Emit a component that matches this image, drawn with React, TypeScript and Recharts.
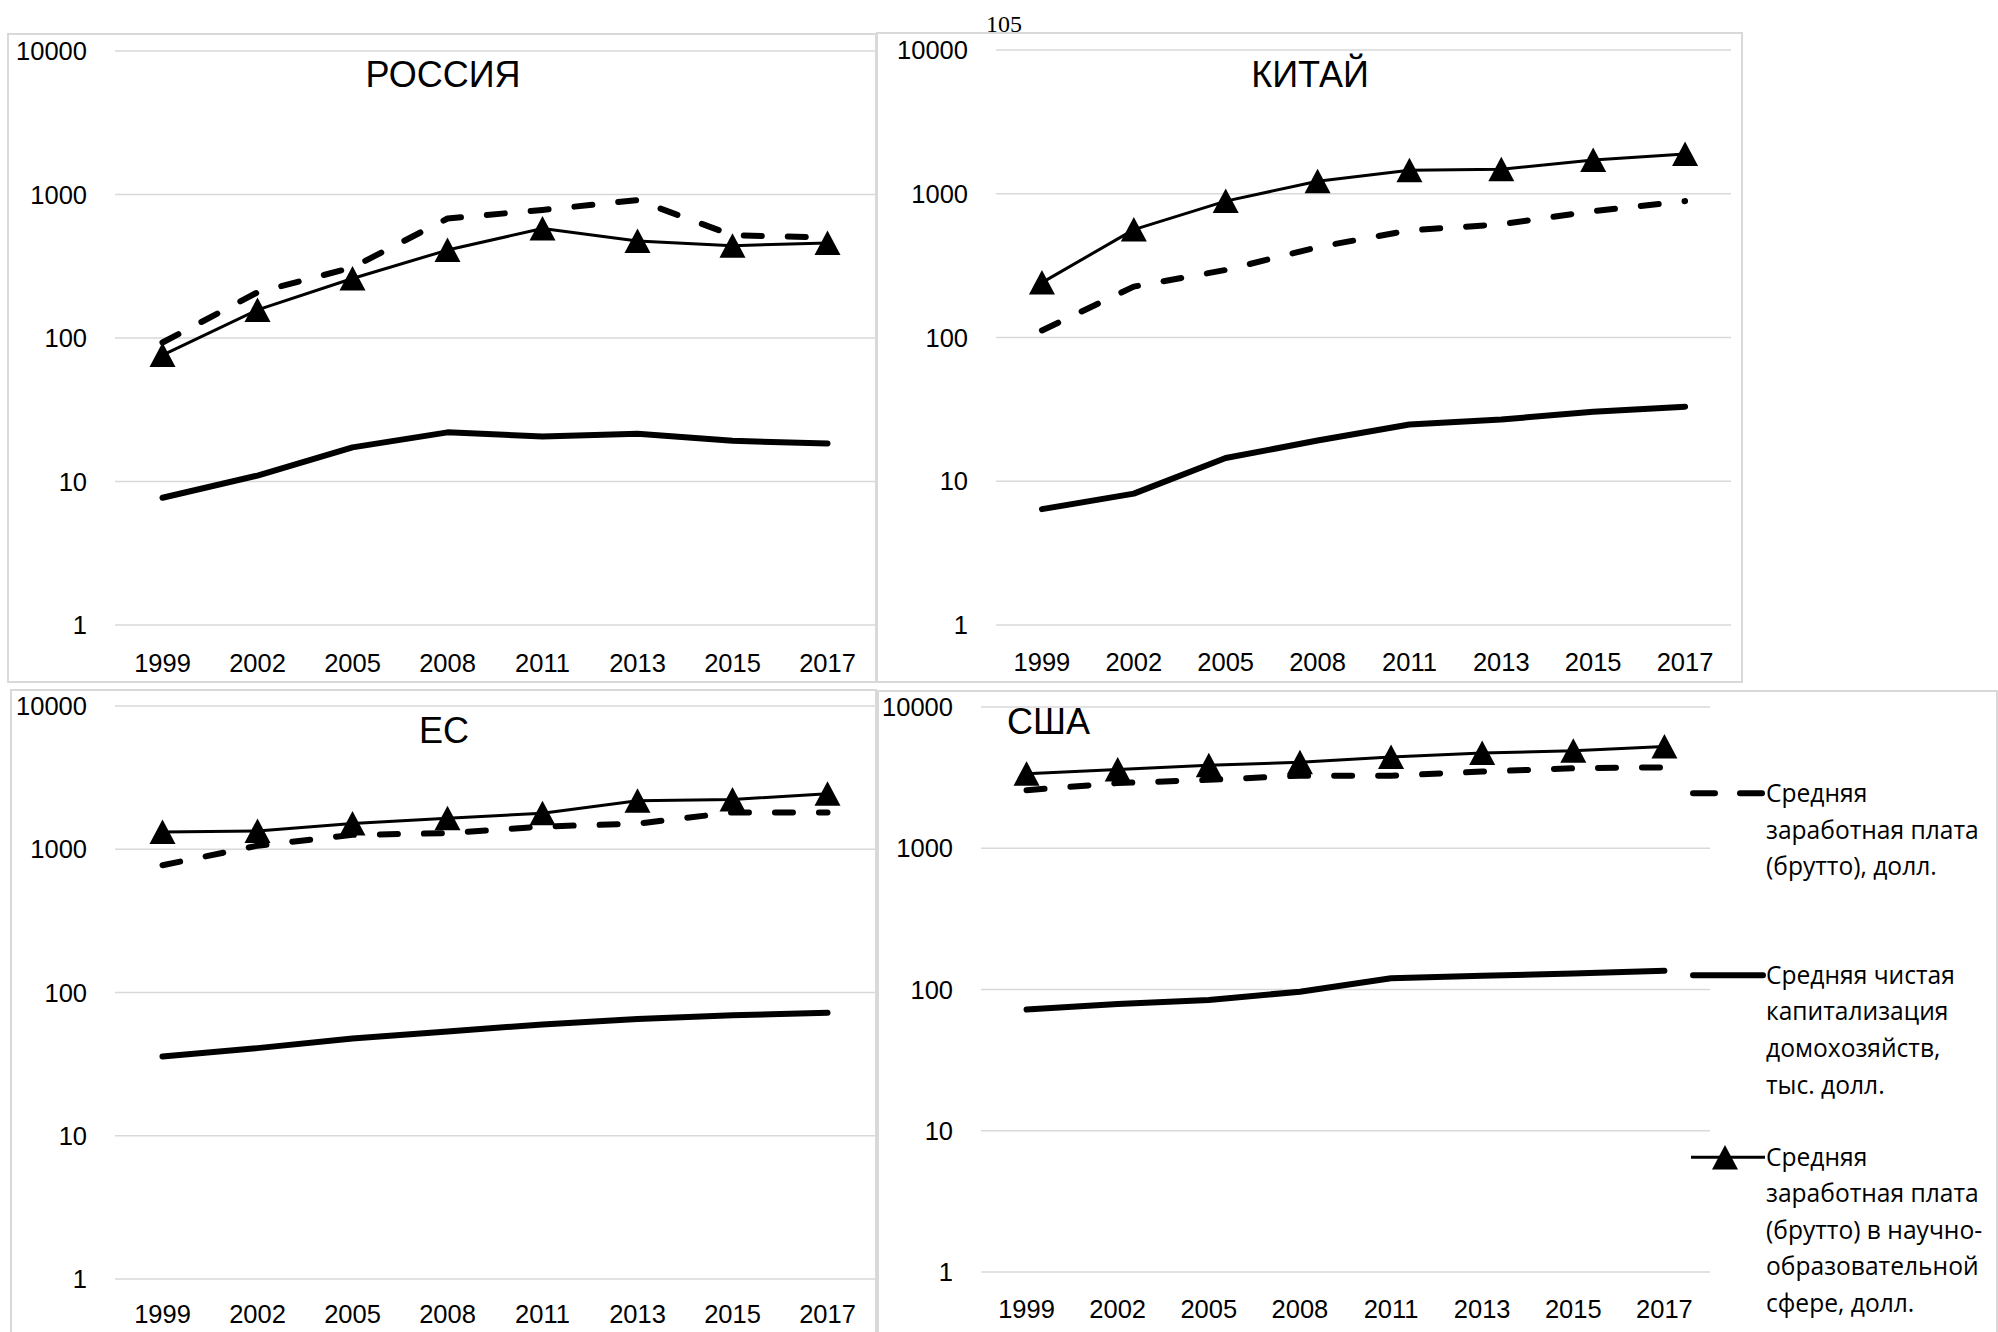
import React from "react";
import { LineChart, Line, XAxis, YAxis, CartesianGrid, Legend } from "recharts";

const years = ["1999", "2002", "2005", "2008", "2011", "2013", "2015", "2017"];
const yTicks = [1, 10, 100, 1000, 10000];

const seriesKeys = ["wage", "capital", "science"];
const seriesNames = [
  "Средняя\nзаработная плата\n(брутто), долл.",
  "Средняя чистая\nкапитализация\nдомохозяйств,\nтыс. долл.",
  "Средняя\nзаработная плата\n(брутто) в научно-\nобразовательной\nсфере, долл.",
];

const russiaWage = [93, 208, 310, 680, 780, 915, 520, 502];
const russiaCapital = [7.7, 11, 17.3, 22, 20.6, 21.5, 19.2, 18.4];
const russiaScience = [76, 157, 260, 410, 580, 475, 440, 460];

const chinaWage = [112, 226, 295, 425, 556, 613, 757, 889];
const chinaCapital = [6.4, 8.2, 14.5, 19.2, 24.8, 26.9, 30.4, 33];
const chinaScience = [241, 563, 889, 1221, 1456, 1478, 1715, 1889];

const euWage = [774, 1059, 1260, 1295, 1440, 1510, 1808, 1808];
const euCapital = [35.8, 40.9, 47.7, 53.4, 59.9, 65.3, 69.4, 72.3];
const euScience = [1320, 1340, 1510, 1648, 1786, 2180, 2226, 2444];

const usaWage = [2576, 2892, 3050, 3265, 3265, 3492, 3684, 3740];
const usaCapital = [72.2, 78.9, 84.4, 96.5, 120, 125, 130, 136];
const usaScience = [3375, 3614, 3872, 4059, 4430, 4733, 4897, 5245];

const FONT = "'Liberation Sans', Arial, sans-serif";
const LEGEND_FONT = "'Open Sans', 'Liberation Sans', sans-serif";
const GRID = "#d9d9d9";

const triangle = (props: any) => {
  const { cx, cy, index } = props;
  if (cx == null || cy == null) return <g key={`t-${index}`} />;
  return (
    <path
      key={`t-${index}`}
      d={`M${cx},${cy - 12.5} L${cx + 13},${cy + 12} L${cx - 13},${cy + 12} Z`}
      fill="#000"
    />
  );
};

const LegendBox = (props: any) => {
  const items = [...(props.payload || [])].sort(
    (a: any, b: any) => seriesKeys.indexOf(a.dataKey) - seriesKeys.indexOf(b.dataKey)
  );
  return (
    <div style={{ fontFamily: LEGEND_FONT, fontSize: 24.6, color: "#000" }}>
      {items.map((entry: any) => (
        <div key={entry.dataKey} style={{ height: 200, display: "flex", alignItems: "center" }}>
          <div style={{ display: "flex", alignItems: "flex-start" }}>
            <svg width={76} height={36.6} style={{ flex: "none" }}>
              {entry.dataKey === "wage" && (
                <line x1={3} y1={18.3} x2={72} y2={18.3} stroke="#000" strokeWidth={6}
                  strokeDasharray="22 25" strokeLinecap="round" />
              )}
              {entry.dataKey === "capital" && (
                <line x1={3} y1={18.3} x2={73} y2={18.3} stroke="#000" strokeWidth={6} strokeLinecap="round" />
              )}
              {entry.dataKey === "science" && (
                <g>
                  <line x1={1} y1={18.3} x2={75} y2={18.3} stroke="#000" strokeWidth={3} />
                  <path d="M35,6 L48,30.5 L22,30.5 Z" fill="#000" />
                </g>
              )}
            </svg>
            <div style={{ whiteSpace: "pre-line", lineHeight: "36.6px" }}>{entry.value}</div>
          </div>
        </div>
      ))}
    </div>
  );
};

type Box = { left: number; top: number; width: number; height: number };
type Plot = { left: number; right: number; top: number; bottom: number };

function Panel({
  title, titleX, titleY, titleAlign, wage, capital, science, box, plot, xMargin, legend,
}: {
  title: string; titleX: number; titleY: number; titleAlign: "center" | "left";
  wage: number[]; capital: number[]; science: number[];
  box: Box; plot: Plot; xMargin: number; legend?: boolean;
}) {
  const rows = years.map((year, i) => ({ year, wage: wage[i], capital: capital[i], science: science[i] }));
  const pad = (plot.right - plot.left) / years.length / 2;
  const tick = { fill: "#000", fontSize: 25.5, fontFamily: FONT };
  return (
    <>
      <div
        style={{
          position: "absolute", left: box.left, top: box.top, width: box.width, height: box.height,
          boxSizing: "border-box", border: `2px solid ${GRID}`,
        }}
      />
      <div style={{ position: "absolute", left: box.left, top: box.top }}>
        <LineChart
          width={box.width}
          height={box.height}
          data={rows}
          margin={{ top: plot.top - box.top, right: box.left + box.width - plot.right, left: 0, bottom: 0 }}
        >
          <CartesianGrid vertical={false} stroke={GRID} strokeWidth={1.3} />
          <XAxis
            dataKey="year"
            axisLine={false}
            tickLine={false}
            tickSize={0}
            tickMargin={xMargin}
            height={box.top + box.height - plot.bottom}
            padding={{ left: pad, right: pad }}
            interval={0}
            tick={tick}
          />
          <YAxis
            type="number"
            scale="log"
            domain={[1, 10000]}
            ticks={yTicks}
            interval={0}
            width={plot.left - box.left}
            axisLine={false}
            tickLine={false}
            tickSize={0}
            tickMargin={28}
            tick={tick}
          />
          <Line dataKey="wage" name={seriesNames[0]} stroke="#000" strokeWidth={6} strokeDasharray="18 26"
            strokeLinecap="round" strokeLinejoin="round" dot={false} activeDot={false} isAnimationActive={false} />
          <Line dataKey="capital" name={seriesNames[1]} stroke="#000" strokeWidth={6}
            strokeLinecap="round" strokeLinejoin="round" dot={false} activeDot={false} isAnimationActive={false} />
          <Line dataKey="science" name={seriesNames[2]} stroke="#000" strokeWidth={3}
            strokeLinejoin="round" dot={triangle} activeDot={false} isAnimationActive={false} />
          {legend && (
            <Legend
              layout="vertical"
              align="center"
              verticalAlign="middle"
              content={LegendBox}
              wrapperStyle={{ left: 1690 - box.left, top: 730 - box.top, width: 308 }}
            />
          )}
        </LineChart>
      </div>
      <div
        style={{
          position: "absolute", left: titleX, top: titleY, fontFamily: FONT, fontSize: 36, color: "#000",
          transform: titleAlign === "center" ? "translate(-50%, -50%)" : "translate(0, -50%)",
          whiteSpace: "nowrap", lineHeight: 1,
        }}
      >
        {title}
      </div>
    </>
  );
}

export default function App() {
  return (
    <div
      style={{
        position: "absolute", left: 0, top: 0, width: 1998, height: 1332, background: "#fff",
        overflow: "hidden",
      }}
    >
      <div
        style={{
          position: "absolute", left: 1004, top: 24, transform: "translate(-50%, -50%)",
          fontFamily: "'Liberation Serif', serif", fontSize: 24, lineHeight: 1, color: "#000",
        }}
      >
        105
      </div>
      <Panel
        title="РОССИЯ" titleX={443} titleY={75} titleAlign="center"
        wage={russiaWage} capital={russiaCapital} science={russiaScience}
        box={{ left: 7, top: 33, width: 870, height: 650 }}
        plot={{ left: 115, right: 875, top: 51, bottom: 625 }}
        xMargin={29}
      />
      <Panel
        title="КИТАЙ" titleX={1310} titleY={75} titleAlign="center"
        wage={chinaWage} capital={chinaCapital} science={chinaScience}
        box={{ left: 876, top: 32, width: 867, height: 651 }}
        plot={{ left: 996, right: 1731, top: 50, bottom: 625 }}
        xMargin={28}
      />
      <Panel
        title="ЕС" titleX={444} titleY={731} titleAlign="center"
        wage={euWage} capital={euCapital} science={euScience}
        box={{ left: 10, top: 689, width: 867, height: 660 }}
        plot={{ left: 115, right: 875, top: 706, bottom: 1279 }}
        xMargin={26}
      />
      <Panel
        title="США" titleX={1007} titleY={722} titleAlign="left"
        wage={usaWage} capital={usaCapital} science={usaScience}
        box={{ left: 877, top: 690, width: 1121, height: 660 }}
        plot={{ left: 981, right: 1710, top: 707, bottom: 1272 }}
        xMargin={28}
        legend
      />
    </div>
  );
}
